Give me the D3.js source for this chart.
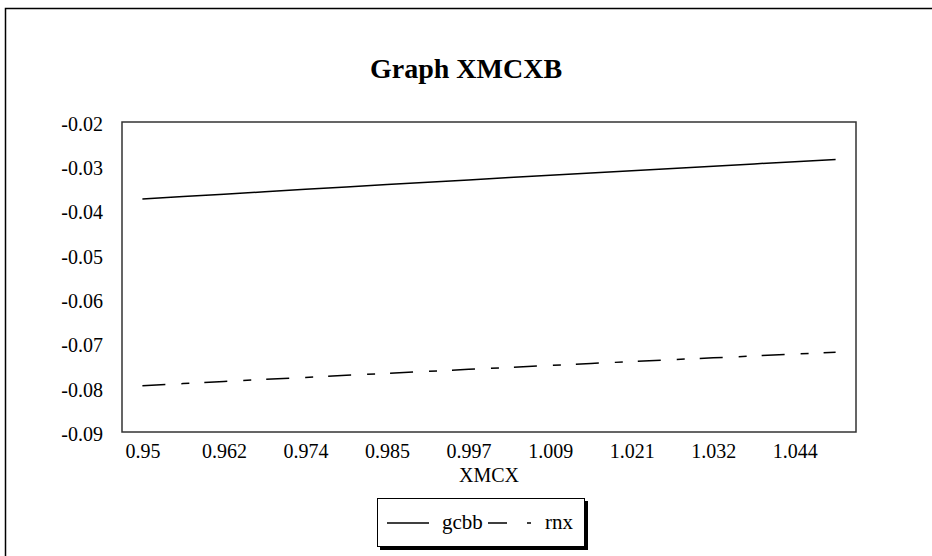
<!DOCTYPE html>
<html>
<head>
<meta charset="utf-8">
<script src="https://cdn.jsdelivr.net/npm/d3@7"></script>
<style>
  html, body { margin: 0; padding: 0; background: #fff; }
  svg { display: block; }
  text { font-family: "Liberation Serif", "Times New Roman", serif; fill: #000; }
</style>
</head>
<body>
<svg id="chart" width="932" height="556"></svg>
<script>
// XMCX sample points
const xmcx = [0.95, 0.955882, 0.961765, 0.967647, 0.973529, 0.979412, 0.985294, 0.991176,
              0.997059, 1.002941, 1.008824, 1.014706, 1.020588, 1.026471, 1.032353, 1.038235,
              1.044118, 1.05];
const gcbb = [-0.03739, -0.03684, -0.03629, -0.03575, -0.03520, -0.03466, -0.03413, -0.03360,
              -0.03307, -0.03255, -0.03203, -0.03151, -0.03099, -0.03048, -0.02997, -0.02946,
              -0.02896, -0.02846];
const rnx  = [-0.07955, -0.07907, -0.07860, -0.07813, -0.07767, -0.07721, -0.07675, -0.07630,
              -0.07585, -0.07541, -0.07497, -0.07453, -0.07410, -0.07367, -0.07325, -0.07283,
              -0.07241, -0.07200];
const yTicks = [-0.02, -0.03, -0.04, -0.05, -0.06, -0.07, -0.08, -0.09];
const seriesNames = ["gcbb", "rnx"];

const svg = d3.select("#chart");
const plot = { left: 122, top: 122, right: 856, bottom: 432 };

// outer frame
svg.append("rect")
  .attr("x", 5.5).attr("y", 8.5).attr("width", 940).attr("height", 560)
  .attr("fill", "none").attr("stroke", "#000").attr("stroke-width", 1.5);

// title
svg.append("text")
  .attr("x", 466).attr("y", 78)
  .attr("text-anchor", "middle")
  .attr("font-size", 28).attr("font-weight", "bold")
  .text("Graph XMCXB");

const x = d3.scalePoint()
  .domain(d3.range(xmcx.length))
  .range([plot.left, plot.right])
  .padding(0.5);

const y = d3.scaleLinear()
  .domain([-0.09, -0.02])
  .range([plot.bottom, plot.top]);

// plot frame
svg.append("rect")
  .attr("x", plot.left).attr("y", plot.top)
  .attr("width", plot.right - plot.left).attr("height", plot.bottom - plot.top)
  .attr("fill", "none").attr("stroke", "#333").attr("stroke-width", 1.5);

// y axis labels
const yAxis = d3.axisLeft(y).tickValues(yTicks).tickSize(0).tickPadding(19)
  .tickFormat(d => d3.format(".2f")(d).replace("−", "-"));
const gy = svg.append("g").attr("transform", `translate(${plot.left},0)`).call(yAxis);
gy.select(".domain").remove();
gy.selectAll("text").attr("font-size", 20).attr("dy", "0.42em")
  .style("font-family", "'Liberation Serif', serif");

// x axis labels: every second point
const xAxis = d3.axisBottom(x)
  .tickValues(d3.range(0, xmcx.length - 1, 2))
  .tickSize(0).tickPadding(12)
  .tickFormat(i => +xmcx[i].toFixed(3) + "");
const gx = svg.append("g").attr("transform", `translate(0,${plot.bottom})`).call(xAxis);
gx.select(".domain").remove();
gx.selectAll("text").attr("font-size", 20)
  .style("font-family", "'Liberation Serif', serif");

// x axis title
svg.append("text")
  .attr("x", (plot.left + plot.right) / 2).attr("y", 482)
  .attr("text-anchor", "middle").attr("font-size", 20)
  .text("XMCX");

const line = d3.line().x((d, i) => x(i)).y(d => y(d));
const dash = "23,16,8,15";

svg.append("path").datum(gcbb)
  .attr("d", line).attr("fill", "none")
  .attr("stroke", "#000").attr("stroke-width", 1.5);

svg.append("path").datum(rnx)
  .attr("d", line).attr("fill", "none")
  .attr("stroke", "#000").attr("stroke-width", 1.5)
  .attr("stroke-dasharray", dash);

// legend
const lg = svg.append("g");
lg.append("rect").attr("x", 380).attr("y", 501).attr("width", 208).attr("height", 49)
  .attr("fill", "#000");
lg.append("rect").attr("x", 377.5).attr("y", 498.5).attr("width", 207).attr("height", 48)
  .attr("fill", "#fff").attr("stroke", "#000").attr("stroke-width", 1);

const ly = 523;
lg.append("line").attr("x1", 387).attr("x2", 429).attr("y1", ly).attr("y2", ly)
  .attr("stroke", "#000").attr("stroke-width", 1.5);
lg.append("text").attr("x", 442).attr("y", ly + 6).attr("font-size", 21).text(seriesNames[0]);
lg.append("line").attr("x1", 488).attr("x2", 531).attr("y1", ly).attr("y2", ly)
  .attr("stroke", "#000").attr("stroke-width", 1.5).attr("stroke-dasharray", "19,20,4");
lg.append("text").attr("x", 545).attr("y", ly + 6).attr("font-size", 21).text(seriesNames[1]);
</script>
</body>
</html>
